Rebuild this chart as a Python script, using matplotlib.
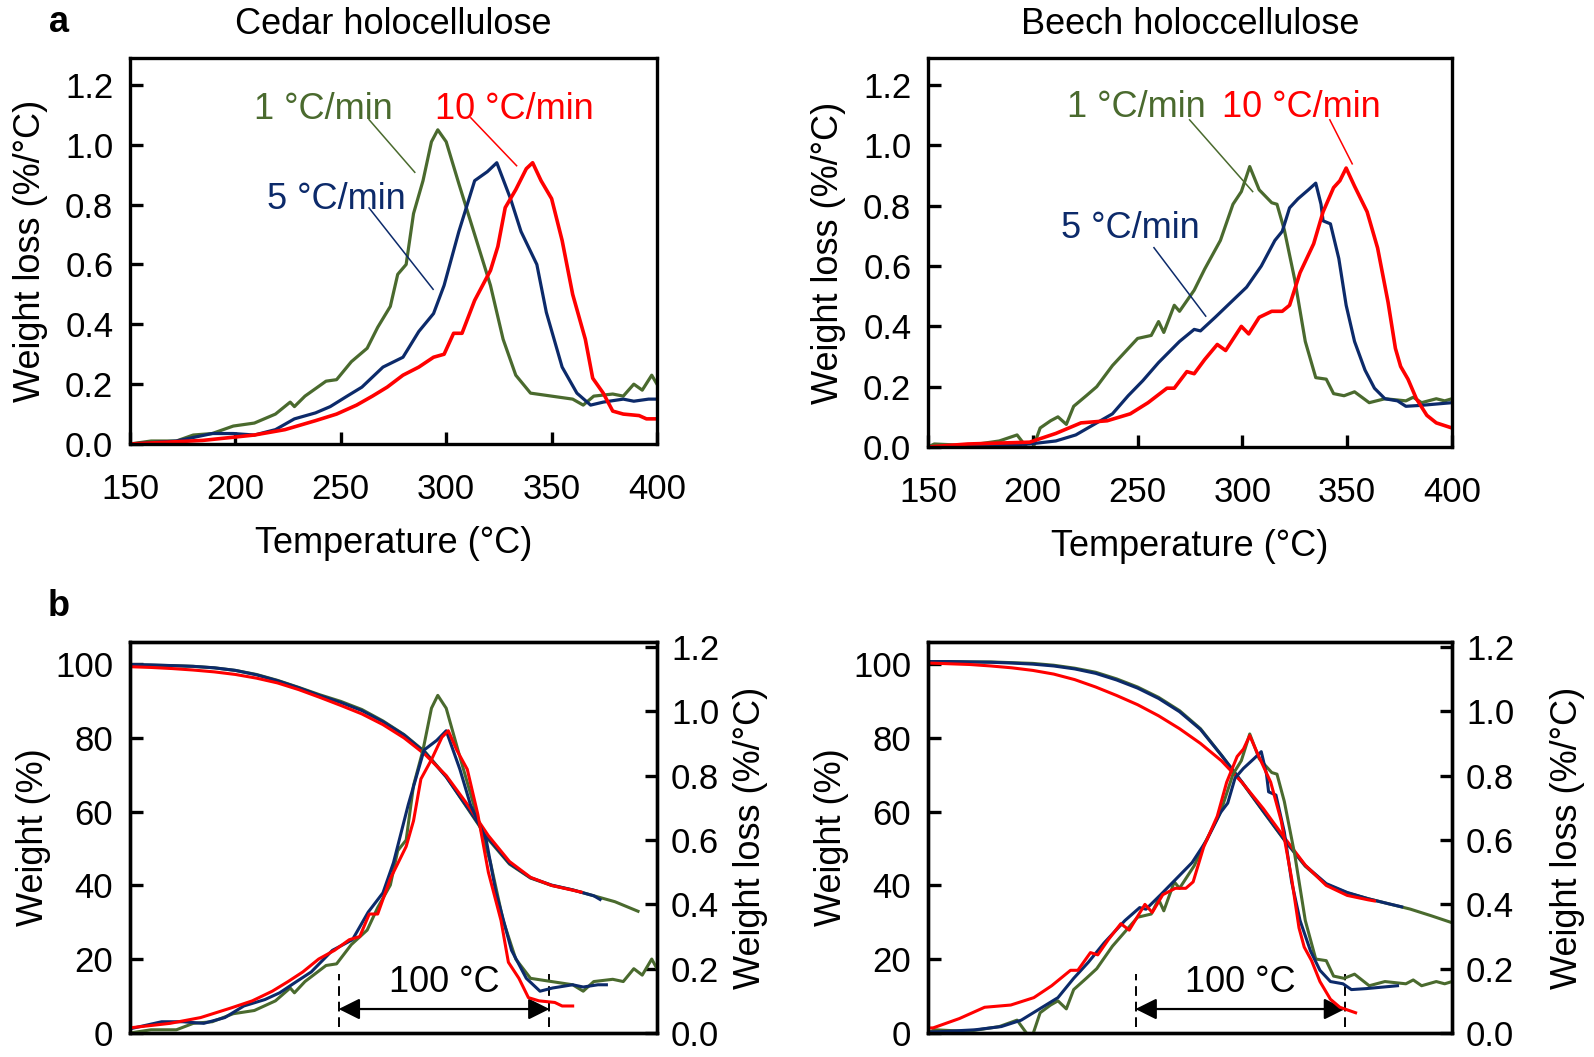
#!/usr/bin/env python3
# DTG curves of cedar / beech holocellulose at three heating rates,
# plus the peak-aligned weight (TG) and DTG curves underneath
import numpy as np
import matplotlib.pyplot as plt

plt.rcParams['font.family'] = ['Liberation Sans', 'DejaVu Sans']

rates = ['1 °C/min', '5 °C/min', '10 °C/min']
colors = ['#4a6a2e', '#0c2a6a', '#ff0000']

# ---- DTG, cedar (temperature in °C, weight loss in %/°C) ----
cedar_t1 = [150, 160, 172, 180, 189, 199, 209, 219, 226, 228, 233, 243, 248, 255, 262.5,
            267.5, 273.5, 277, 281, 284.5, 289, 293, 296, 300, 306, 313.5, 321, 327, 333,
            340, 350, 360, 365, 370, 379, 384, 389, 393, 397.5, 400]
cedar_d1 = [0.0, 0.01, 0.01, 0.03, 0.035, 0.06, 0.07, 0.10, 0.14, 0.125, 0.16, 0.21, 0.215,
            0.275, 0.32, 0.39, 0.46, 0.567, 0.60, 0.77, 0.88, 1.01, 1.05, 1.01, 0.87, 0.70,
            0.53, 0.35, 0.23, 0.17, 0.16, 0.15, 0.13, 0.16, 0.167, 0.16, 0.20, 0.18, 0.23, 0.20]
cedar_t5 = [150, 172, 189, 199, 209, 219, 228, 238, 245, 253, 260, 270, 279.5, 287, 294, 299,
            306, 313.5, 319.5, 324, 330.5, 335.5, 343, 347.5, 355, 362, 368.5, 374.5, 384,
            389, 396, 400]
cedar_d5 = [0.0, 0.01, 0.035, 0.035, 0.03, 0.048, 0.084, 0.104, 0.125, 0.16, 0.19, 0.257,
            0.29, 0.376, 0.436, 0.53, 0.71, 0.88, 0.91, 0.94, 0.82, 0.71, 0.60, 0.44, 0.257,
            0.17, 0.13, 0.14, 0.15, 0.143, 0.15, 0.15]
cedar_t10 = [150, 184.5, 209, 223.5, 238, 248, 257.5, 265, 272, 279.5, 287, 294, 299, 303.5,
             307.5, 313.5, 321, 324.5, 328, 333, 338, 341, 345, 350, 355, 360, 366, 369.5,
             374.5, 379, 384, 391.5, 395, 400]
cedar_d10 = [0.0, 0.012, 0.03, 0.048, 0.078, 0.10, 0.13, 0.16, 0.19, 0.23, 0.257, 0.29, 0.30,
             0.37, 0.37, 0.48, 0.58, 0.66, 0.79, 0.85, 0.92, 0.94, 0.88, 0.82, 0.68, 0.50,
             0.35, 0.22, 0.17, 0.11, 0.10, 0.095, 0.084, 0.084]

# ---- DTG, beech ----
beech_t1 = [150, 153, 169, 184, 192.5, 197.5, 200, 203.5, 208.5, 212, 216, 219.5, 225.5,
            230.5, 238, 244, 250, 256.5, 260, 262.5, 267.5, 270, 277, 282, 289.5, 295.5,
            299.5, 303.5, 308, 314, 316.5, 320, 325, 330, 335, 340, 343.5, 348.5, 353.5,
            360.5, 368, 378, 381.5, 385.5, 392.5, 396.5, 400]
beech_d1 = [0.0, 0.01, 0.005, 0.02, 0.04, -0.005, -0.005, 0.063, 0.087, 0.10, 0.075, 0.135,
            0.17, 0.20, 0.27, 0.315, 0.36, 0.37, 0.416, 0.38, 0.47, 0.45, 0.52, 0.59, 0.685,
            0.805, 0.847, 0.93, 0.853, 0.81, 0.805, 0.72, 0.554, 0.35, 0.23, 0.225, 0.177,
            0.17, 0.183, 0.147, 0.16, 0.153, 0.165, 0.147, 0.16, 0.153, 0.16]
beech_t5 = [150, 181.5, 198.5, 211, 220.5, 230.5, 238, 245.5, 252.5, 260, 270, 277, 280, 287,
            294.5, 302, 309, 315.5, 319, 322.5, 326.5, 331.5, 335, 337.5, 338.5, 342, 346,
            349.5, 353.5, 358.5, 363, 368, 374, 378, 385, 400]
beech_d5 = [0.0, 0.004, 0.01, 0.02, 0.04, 0.08, 0.11, 0.17, 0.22, 0.28, 0.35, 0.39, 0.385,
            0.43, 0.48, 0.53, 0.60, 0.685, 0.715, 0.793, 0.823, 0.853, 0.875, 0.805, 0.75,
            0.74, 0.625, 0.47, 0.35, 0.255, 0.195, 0.16, 0.153, 0.135, 0.138, 0.147]
beech_t10 = [150, 169, 198.5, 211, 223, 235.5, 246.5, 255, 264, 267.5, 273.5, 277, 282, 288,
             292, 299.5, 303, 308, 314, 319, 322.5, 327.5, 334, 338.5, 343.5, 346.5, 349.5,
             353.5, 359.5, 364.5, 369.5, 373, 375.5, 379, 383, 388, 392.5, 400]
beech_d10 = [0.0, 0.01, 0.016, 0.045, 0.08, 0.087, 0.11, 0.147, 0.195, 0.195, 0.25, 0.243,
             0.29, 0.34, 0.32, 0.40, 0.375, 0.43, 0.45, 0.45, 0.47, 0.578, 0.674, 0.78, 0.86,
             0.883, 0.925, 0.865, 0.78, 0.66, 0.48, 0.327, 0.267, 0.225, 0.16, 0.105, 0.08,
             0.063]

# temperature shift used to align the curves in panel b (°C)
cedar_shift = [0, -24, -40]
beech_shift = [0, -26, -46]

# ---- TG (weight %), on the aligned temperature scale of panel b ----
tg_t = [150, 160, 170, 180, 190, 200, 210, 220, 230, 240, 250, 260, 270, 280, 290, 300,
        310, 320, 330, 340, 350, 360, 370, 380, 391]
cedar_w1 = [99.8, 99.7, 99.6, 99.4, 99.0, 98.3, 97.2, 95.6, 93.7, 91.7, 89.9, 87.7, 84.6,
            80.9, 76.2, 69.5, 61.0, 52.5, 45.8, 42.0, 40.0, 38.8, 37.2, 35.6, 33.0]
cedar_w5 = [99.9, 99.8, 99.6, 99.4, 99.0, 98.3, 97.1, 95.5, 93.6, 91.5, 89.6, 87.4, 84.4,
            80.8, 76.0, 69.4, 61.2, 52.8, 46.0, 42.1, 40.1, 38.8, 37.2, 36.2]
cedar_w10 = [99.3, 99.1, 98.8, 98.4, 97.9, 97.2, 96.2, 94.9, 93.1, 91.0, 88.8, 86.5, 83.6,
             80.0, 75.5, 69.8, 62.0, 53.5, 46.5, 42.2, 40.0, 38.7, 38.2]
cedar_tg_end = [391, 373, 364]

beech_tg_t = [150, 160, 170, 180, 190, 200, 210, 220, 230, 240, 250, 260, 270, 280, 290,
              300, 310, 320, 330, 340, 350, 360, 370, 380, 390, 400]
beech_w1 = [100.7, 100.7, 100.6, 100.6, 100.4, 100.2, 99.7, 98.9, 97.8, 96.0, 93.8, 91.0,
            87.4, 82.5, 75.3, 67.8, 60.0, 52.3, 45.2, 40.3, 38.0, 36.4, 35.0, 33.6, 31.8, 29.9]
beech_w5 = [100.7, 100.7, 100.6, 100.5, 100.3, 100.0, 99.5, 98.7, 97.5, 95.7, 93.5, 90.7,
            87.1, 82.3, 75.3, 67.9, 60.1, 52.4, 45.4, 40.5, 38.1, 36.4, 35.0, 34.2]
beech_w10 = [100.3, 100.1, 99.9, 99.5, 99.0, 98.3, 97.3, 95.8, 93.8, 91.5, 89.0, 86.0, 82.5,
             78.5, 73.8, 67.8, 60.8, 53.0, 45.5, 40.0, 37.3, 36.1, 35.8]
beech_tg_end = [400, 376, 363]

FS = 26
W, H = 1594, 1057
fig = plt.figure(figsize=(W / 100, H / 100), dpi=100)


def box(l, r, t, b):
    return [l / W, 1 - b / H, (r - l) / W, (b - t) / H]


def frame(ax):
    for s in ax.spines.values():
        s.set_linewidth(2.4)


def top_panel(rect, title, dtg, labels):
    ax = fig.add_axes(rect)
    for (t, d), c in zip(dtg, colors):
        lw = 2.6 if c == '#ff0000' else 2.3
        ax.plot(t, d, color=c, lw=lw)
    ax.set_xlim(150, 400)
    ax.set_ylim(0, 1.29)
    ax.set_xticks(np.arange(150, 401, 50))
    ax.set_yticks(np.arange(0, 1.21, 0.2))
    ax.yaxis.set_major_formatter(plt.FormatStrFormatter('%.1f'))
    ax.tick_params(direction='in', length=9, width=2.4, labelsize=25)
    ax.tick_params(axis='x', pad=21)
    ax.tick_params(axis='y', pad=12)
    ax.set_xlabel('Temperature (°C)', fontsize=FS, labelpad=14)
    ax.set_ylabel('Weight loss (%/°C)', fontsize=FS, labelpad=12)
    ax.set_title(title, fontsize=FS, pad=17)
    for txt, xy, p0, p1, c in labels:
        ax.text(xy[0], xy[1], txt, color=c, fontsize=FS, ha='center', va='center')
        ax.plot([p0[0], p1[0]], [p0[1], p1[1]], color=c, lw=1.1)
    frame(ax)
    return ax


def bottom_panel(rect, tg, dtg, shifts, rpad):
    ax = fig.add_axes(rect)
    ax2 = ax.twinx()
    for (t, w), c in zip(tg, colors):
        ax.plot(t, w, color=c, lw=2.2)
    for (t, d), s, c in zip(dtg, shifts, colors):
        ax2.plot(np.array(t) + s, d, color=c, lw=2.2)
    ax.set_xlim(150, 400)
    ax.set_ylim(0, 106)
    ax2.set_ylim(0, 1.216)
    ax.set_xticks([])
    ax.set_yticks(np.arange(0, 101, 20))
    ax2.set_yticks(np.arange(0, 1.21, 0.2))
    ax2.yaxis.set_major_formatter(plt.FormatStrFormatter('%.1f'))
    ax.tick_params(direction='in', length=9, width=2.4, labelsize=25, pad=12)
    ax2.tick_params(direction='in', length=9, width=2.4, labelsize=25, pad=10)
    ax.set_ylabel('Weight (%)', fontsize=FS, labelpad=3)
    ax2.set_ylabel('Weight loss (%/°C)', fontsize=FS, labelpad=rpad)
    # 100 °C span marker
    for xv in (249, 349):
        ax.plot([xv, xv], [1.5, 16], color='k', lw=1.4, ls=(0, (5, 3)))
    ax.annotate('', xy=(249, 6.5), xytext=(349, 6.5),
                arrowprops=dict(arrowstyle='<|-|>', color='k', lw=1.6,
                                mutation_scale=32, shrinkA=0, shrinkB=0))
    ax.text(299, 13.6, '100 °C', fontsize=FS, ha='center', va='center')
    frame(ax)
    frame(ax2)
    return ax


cedar_dtg = [(cedar_t1, cedar_d1), (cedar_t5, cedar_d5), (cedar_t10, cedar_d10)]
beech_dtg = [(beech_t1, beech_d1), (beech_t5, beech_d5), (beech_t10, beech_d10)]

cedar_labels = [
    (rates[0], (241.7, 1.119), (263.4, 1.084), (285.1, 0.908), colors[0]),
    (rates[2], (332.4, 1.119), (311.7, 1.09), (333.4, 0.93), colors[2]),
    (rates[1], (248.0, 0.816), (263.4, 0.789), (293.8, 0.517), colors[1]),
]
beech_labels = [
    (rates[0], (249.5, 1.126), (274.8, 1.085), (304.9, 0.847), colors[0]),
    (rates[2], (328.2, 1.126), (341.7, 1.085), (352.4, 0.939), colors[2]),
    (rates[1], (246.6, 0.723), (257.8, 0.661), (282.5, 0.434), colors[1]),
]

top_panel(box(130, 657, 58, 444), 'Cedar holocellulose', cedar_dtg, cedar_labels)
top_panel(box(928, 1452, 58, 447), 'Beech holoccellulose', beech_dtg, beech_labels)

cedar_tg = [(tg_t[:len(w)], w) for w in (cedar_w1, cedar_w5, cedar_w10)]
beech_tg = [(beech_tg_t[:len(w)], w) for w in (beech_w1, beech_w5, beech_w10)]
for i, e in enumerate(cedar_tg_end):
    t = list(cedar_tg[i][0])
    t[-1] = e
    cedar_tg[i] = (t, cedar_tg[i][1])
for i, e in enumerate(beech_tg_end):
    t = list(beech_tg[i][0])
    t[-1] = e
    beech_tg[i] = (t, beech_tg[i][1])

bottom_panel(box(130, 657, 642, 1033), cedar_tg, cedar_dtg, cedar_shift, 10)
bottom_panel(box(928, 1452, 642, 1033), beech_tg, beech_dtg, beech_shift, 26)

fig.text(59 / W, 1 - 22 / H, 'a', fontsize=FS, fontweight='bold', ha='center', va='center')
fig.text(59 / W, 1 - 607 / H, 'b', fontsize=FS, fontweight='bold', ha='center', va='center')

fig.savefig('out.png', dpi=100)
